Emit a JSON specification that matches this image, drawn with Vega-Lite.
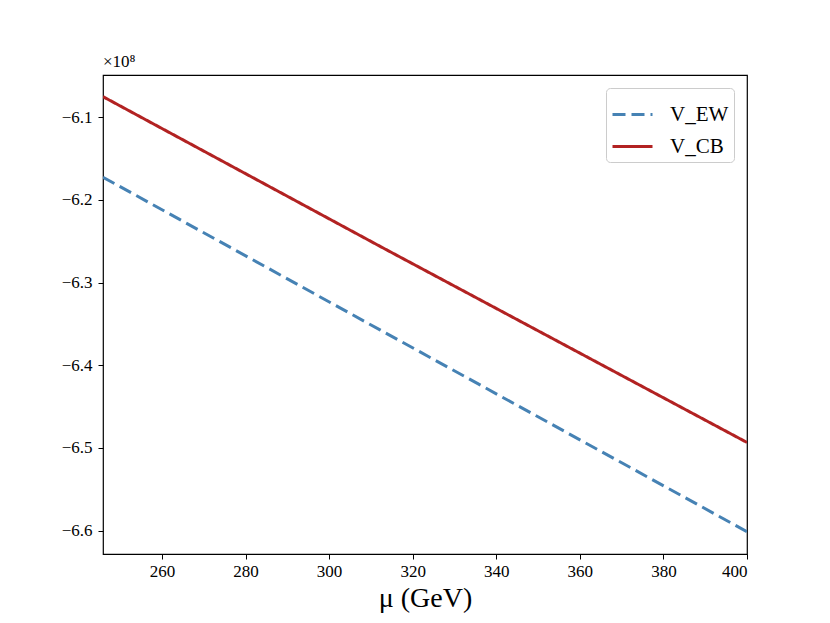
{
  "$schema": "https://vega.github.io/schema/vega-lite/v6.json",
  "width": 644,
  "height": 479,
  "autosize": {"type": "none"},
  "padding": {"left": 103, "top": 75, "right": 83, "bottom": 69},
  "background": "white",
  "title": {
    "text": "×10⁸",
    "anchor": "start",
    "frame": "group",
    "offset": 4,
    "font": "Liberation Serif",
    "fontSize": 17,
    "fontWeight": "normal",
    "color": "black"
  },
  "config": {
    "view": {"stroke": "black", "strokeWidth": 1.2},
    "axis": {
      "labelFont": "Liberation Serif",
      "labelFontSize": 17,
      "labelColor": "black",
      "titleFont": "Liberation Serif",
      "titleColor": "black",
      "titleFontWeight": "normal",
      "grid": false,
      "domain": false,
      "tickColor": "black",
      "tickSize": 5,
      "tickWidth": 1
    }
  },
  "data": {
    "values": [
      {"mu": 245.9, "V": -6.1725, "series": "V_EW"},
      {"mu": 312.3, "V": -6.3575, "series": "V_EW"},
      {"mu": 400, "V": -6.6012, "series": "V_EW"},
      {"mu": 245.9, "V": -6.0751, "series": "V_CB"},
      {"mu": 312.3, "V": -6.2564, "series": "V_CB"},
      {"mu": 400, "V": -6.4933, "series": "V_CB"}
    ]
  },
  "mark": {"type": "line", "strokeWidth": 3, "clip": true},
  "encoding": {
    "x": {
      "field": "mu",
      "type": "quantitative",
      "title": "μ (GeV)",
      "scale": {"domain": [245.9, 400], "nice": false, "zero": false},
      "axis": {
        "values": [260, 280, 300, 320, 340, 360, 380, 400],
        "format": "d",
        "labelPadding": 4,
        "titleFontSize": 28,
        "titlePadding": 5
      }
    },
    "y": {
      "field": "V",
      "type": "quantitative",
      "title": null,
      "scale": {"domain": [-6.6282, -6.0489], "nice": false, "zero": false},
      "axis": {
        "values": [-6.1, -6.2, -6.3, -6.4, -6.5, -6.6],
        "format": ".1f",
        "labelPadding": 6
      }
    },
    "color": {
      "field": "series",
      "type": "nominal",
      "scale": {"domain": ["V_EW", "V_CB"], "range": ["#4682b4", "#b22222"]},
      "legend": {
        "title": null,
        "orient": "top-right",
        "offset": 13,
        "fillColor": "white",
        "strokeColor": "#cccccc",
        "cornerRadius": 4,
        "padding": 5,
        "symbolType": "stroke",
        "symbolSize": 1600,
        "symbolStrokeWidth": 3,
        "labelOffset": 16,
        "labelFont": "Liberation Serif",
        "labelFontSize": 21,
        "labelColor": "black",
        "rowPadding": -2
      }
    },
    "strokeDash": {
      "field": "series",
      "type": "nominal",
      "scale": {"domain": ["V_EW", "V_CB"], "range": [[13, 6], [1, 0]]},
      "legend": null
    }
  }
}
